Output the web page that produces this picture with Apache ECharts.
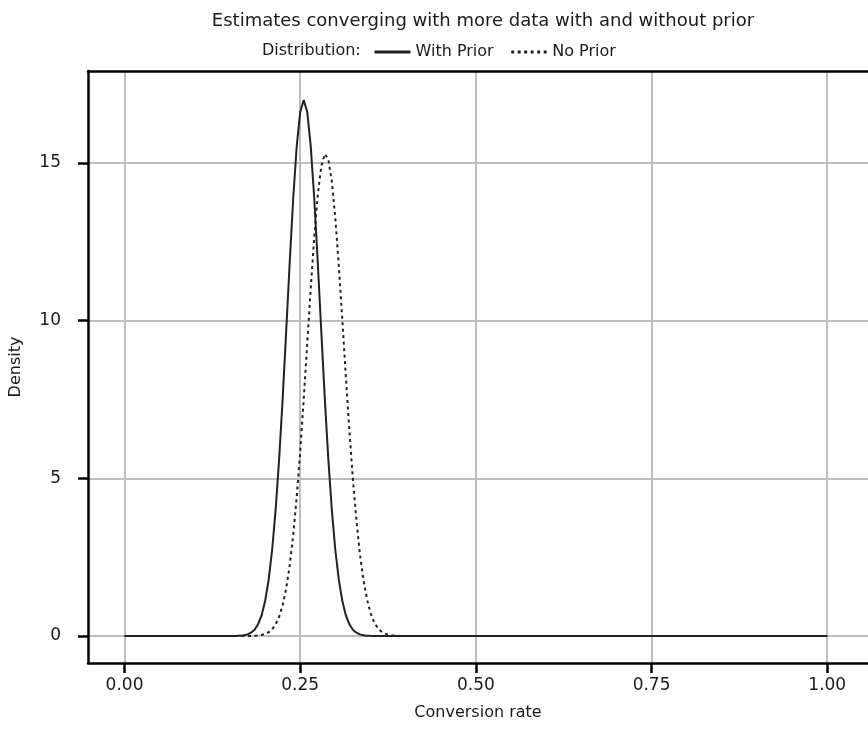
<!DOCTYPE html>
<html>
<head>
<meta charset="utf-8">
<script src="https://cdn.jsdelivr.net/npm/echarts@6/dist/echarts.min.js"></script>
<style>html,body{margin:0;padding:0;background:#fff}#c{width:868px;height:742px}</style>
</head>
<body>
<div id="c"></div>
<script>
const titleText = 'Estimates converging with more data with and without prior';
const legendTitle = 'Distribution:';
const seriesNames = ['With Prior', 'No Prior'];
const xTicks = [0, 0.25, 0.5, 0.75, 1];
const yTicks = [0, 5, 10, 15];
const xValues = [0,
  0.150,0.155,0.160,0.165,0.170,0.175,0.180,0.185,0.190,0.195,
  0.200,0.205,0.210,0.215,0.220,0.225,0.230,0.235,0.240,0.245,
  0.250,0.255,0.260,0.265,0.270,0.275,0.280,0.285,0.290,0.295,
  0.300,0.305,0.310,0.315,0.320,0.325,0.330,0.335,0.340,0.345,
  0.350,0.355,0.360,0.365,0.370,0.375,0.380,0.385,0.390,0.395,
  0.400, 1];
const withPrior = [0,
  0,0.002,0.005,0.011,0.024,0.052,0.105,0.201,0.371,0.653,
  1.10,1.77,2.72,3.99,5.61,7.52,9.65,11.83,13.87,15.53,
  16.62,17.0,16.62,15.53,13.87,11.83,9.65,7.52,5.61,3.99,
  2.72,1.77,1.10,0.653,0.371,0.201,0.105,0.052,0.024,0.011,
  0.005,0.002,0,0,0,0,0,0,0,0,
  0, 0];
const noPrior = [0,
  0,0,0,0,0.001,0.002,0.003,0.008,0.017,0.033,
  0.064,0.119,0.213,0.367,0.611,0.976,1.50,2.23,3.20,4.41,
  5.86,7.52,9.28,11.04,12.66,13.99,14.90,15.29,15.12,14.41,
  13.23,11.72,9.99,8.21,6.51,4.97,3.66,2.59,1.77,1.17,
  0.739,0.452,0.267,0.151,0.083,0.044,0.022,0.011,0.005,0.002,
  0.001, 0];

const FONT = 'DejaVu Sans';
const TXT = '#1a1a1a';
const chart = echarts.init(document.getElementById('c'), null, {renderer: 'canvas'});
const pairs = ys => xValues.map((x, i) => [x, ys[i]]);
const XMIN = -0.052, XMAX = 1.058, YMIN = -0.856, YMAX = 17.92;
chart.setOption({
  animation: false,
  backgroundColor: '#ffffff',
  title: {
    text: titleText, left: 478, top: 7, textAlign: 'center',
    textStyle: {fontFamily: FONT, fontSize: 18, fontWeight: 'normal', color: TXT}
  },
  graphic: [{
    type: 'text', left: 262, top: 43,
    style: {text: legendTitle, fontFamily: FONT, fontSize: 16, fill: TXT}
  }],
  legend: {
    data: seriesNames, left: 368, top: 39, itemWidth: 36, itemHeight: 14, itemGap: 16,
    itemStyle: {opacity: 0, color: 'rgba(0,0,0,0)', borderColor: 'rgba(0,0,0,0)'},
    lineStyle: {width: 3},
    textStyle: {fontFamily: FONT, fontSize: 16, color: TXT}
  },
  grid: {left: 88, right: 0, top: 71, bottom: 79, containLabel: false},
  xAxis: [{
    type: 'value', min: XMIN, max: XMAX,
    name: 'Conversion rate', nameLocation: 'middle', nameGap: 42,
    nameTextStyle: {fontFamily: FONT, fontSize: 16, color: TXT},
    axisLine: {show: true, onZero: false, lineStyle: {color: '#000', width: 2.5}},
    axisTick: {show: true, customValues: xTicks, length: 10, lineStyle: {color: '#000', width: 2.5}},
    axisLabel: {customValues: xTicks, formatter: v => v.toFixed(2), margin: 14,
      fontFamily: FONT, fontSize: 17, color: TXT},
    splitLine: {show: true, lineStyle: {color: '#bebebe', width: 2}}
  }, {
    type: 'value', min: XMIN, max: XMAX, position: 'top',
    axisLine: {show: true, onZero: false, lineStyle: {color: '#000', width: 2.5}},
    axisTick: {show: false}, axisLabel: {show: false}, splitLine: {show: false}
  }],
  yAxis: {
    type: 'value', min: YMIN, max: YMAX,
    name: 'Density', nameLocation: 'middle', nameGap: 64, nameRotate: 90,
    nameTextStyle: {fontFamily: FONT, fontSize: 16, color: TXT},
    axisLine: {show: true, onZero: false, lineStyle: {color: '#000', width: 2.5}},
    axisTick: {show: true, customValues: yTicks, length: 10, lineStyle: {color: '#000', width: 2.5}},
    axisLabel: {customValues: yTicks, margin: 27, fontFamily: FONT, fontSize: 17, color: TXT},
    splitLine: {show: true, lineStyle: {color: '#bebebe', width: 2}}
  },
  series: [{
    name: seriesNames[0], type: 'line', data: pairs(withPrior), symbol: 'none',
    lineStyle: {color: '#222', width: 2, type: 'solid'}, itemStyle: {color: '#222'}
  }, {
    name: seriesNames[1], type: 'line', data: pairs(noPrior), symbol: 'none',
    lineStyle: {color: '#222', width: 2, type: [3, 3.5]}, itemStyle: {color: '#222'}
  }]
});
</script>
</body>
</html>
